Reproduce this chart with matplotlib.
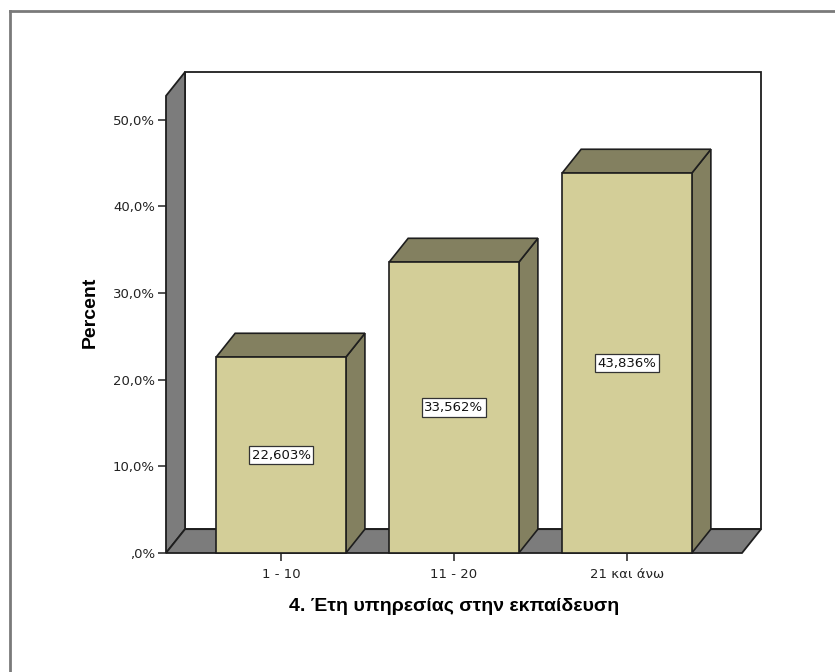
import matplotlib.pyplot as plt
from matplotlib.patches import Polygon, Rectangle
from matplotlib.lines import Line2D

# data
categories = ["1 - 10", "11 - 20", "21 και άνω"]
percents = [22.603, 33.562, 43.836]
yticks = [0, 10, 20, 30, 40, 50]
ytick_labels = [",0%", "10,0%", "20,0%", "30,0%", "40,0%", "50,0%"]

# colours
bar_front = "#d3ce98"
bar_shade = "#838060"
wall_grey = "#7c7c7c"
edge = "#1e1e1e"

fig = plt.figure(figsize=(8.35, 6.72), dpi=100)
ax = fig.add_axes([166 / 835, 1 - 553 / 672, 576 / 835, 481 / 672])

x0, x1 = -0.665, 2.665
top = 55.5
dx, dy = 0.11, 2.75     # depth offset of the 3d box
width = 0.75

ax.set_xlim(x0, x1)
ax.set_ylim(0, top)
for s in ax.spines.values():
    s.set_visible(False)

# back wall, left wall, floor
ax.add_patch(Rectangle((x0 + dx, dy), x1 - x0, top - dy, facecolor="white",
                       edgecolor=edge, lw=1.3, clip_on=False, zorder=1))
ax.add_patch(Polygon([(x0, 0), (x0 + dx, dy), (x0 + dx, top), (x0, top - dy)],
                     facecolor=wall_grey, edgecolor=edge, lw=1.3, clip_on=False, zorder=2))
ax.add_patch(Polygon([(x0, 0), (x1, 0), (x1 + dx, dy), (x0 + dx, dy)],
                     facecolor=wall_grey, edgecolor=edge, lw=1.3, clip_on=False, zorder=2))

# 3d bars
for i, v in enumerate(percents):
    l, r = i - width / 2, i + width / 2
    ax.add_patch(Polygon([(r, 0), (r + dx, dy), (r + dx, v + dy), (r, v)],
                         facecolor=bar_shade, edgecolor=edge, lw=1.2, clip_on=False, zorder=3))
    ax.add_patch(Polygon([(l, v), (r, v), (r + dx, v + dy), (l + dx, v + dy)],
                         facecolor=bar_shade, edgecolor=edge, lw=1.2, clip_on=False, zorder=3))
    ax.add_patch(Rectangle((l, 0), width, v, facecolor=bar_front,
                           edgecolor=edge, lw=1.2, clip_on=False, zorder=4))
    ax.text(i, v / 2, f"{v:.3f}%".replace(".", ","), ha="center", va="center",
            fontsize=9.5, family="DejaVu Sans", color="#111111", zorder=5,
            bbox=dict(boxstyle="square,pad=0.2", facecolor="white",
                      edgecolor="#333333", lw=0.9))

ax.set_yticks(yticks)
ax.set_yticklabels(ytick_labels)
ax.set_xticks(range(len(categories)))
ax.set_xticklabels(categories)
ax.tick_params(axis="both", direction="out", length=6, width=1.2, color="#333333",
               labelsize=9.5, labelcolor="#222222", pad=2)
ax.tick_params(axis="x", pad=5)

ax.set_ylabel("Percent", fontsize=14, fontweight="bold", family="Liberation Sans",
              labelpad=10)
ax.set_xlabel("4. Έτη υπηρεσίας στην εκπαίδευση", fontsize=14, fontweight="bold",
              family="Liberation Sans", labelpad=12)

# outer frame, top and left edges
fig.add_artist(Line2D([10 / 835, 1], [1 - 11 / 672, 1 - 11 / 672], color="#7a7a7a", lw=2))
fig.add_artist(Line2D([10 / 835, 10 / 835], [0, 1 - 11 / 672], color="#7a7a7a", lw=2))

fig.savefig("out.png", dpi=100)
